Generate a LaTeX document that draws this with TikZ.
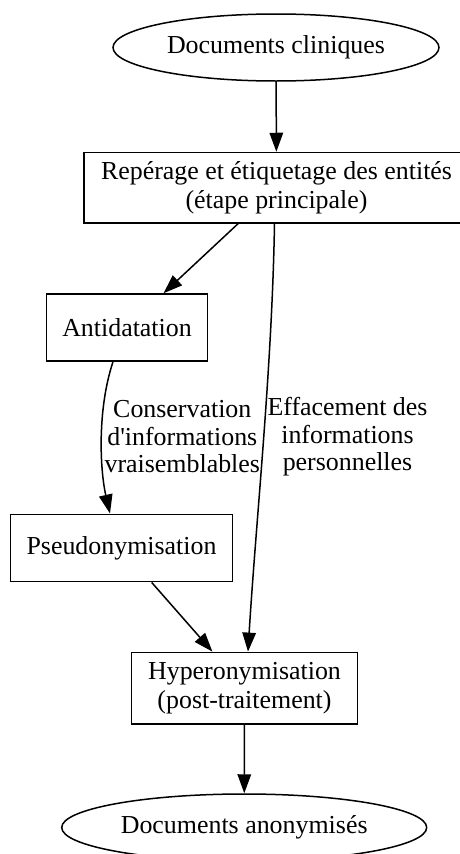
\documentclass[tikz,border=0pt]{standalone}
\usepackage{fontspec}
\setmainfont{Liberation Serif}
\usetikzlibrary{arrows.meta,calc,shapes.geometric}
\begin{document}
\begin{tikzpicture}[x=1pt,y=-1pt,
  every node/.style={font=\fontsize{25.9}{28.6}\selectfont, inner sep=0pt, align=center},
  doc/.style={ellipse, draw, line width=1.5pt},
  stage/.style={rectangle, draw, line width=1.5pt},
  flow/.style={line width=1.5pt, -{Triangle[length=19pt,width=13.5pt]}},
  lbl/.style={font=\fontsize{25.9}{27.5}\selectfont}]
\useasboundingbox (0,0) rectangle (460,854);

% pipeline stages
\node[doc, minimum width=326, minimum height=67] (src) at (276,47.5) {Documents cliniques};
\node[stage, minimum width=385, minimum height=70.4] (tag) at (276.5,187.7)
  {Repérage et étiquetage des entités\\(étape principale)};
\node[stage, minimum width=160.6, minimum height=67] (anti) at (127,327.5) {Antidatation};
\node[stage, minimum width=221.6, minimum height=67.4] (pseudo) at (121.5,548) {Pseudonymisation};
\node[stage, minimum width=225.6, minimum height=71.7] (hyper) at (244.5,688.2)
  {Hyperonymisation\\(post-traitement)};
\node[doc, minimum width=365, minimum height=67] (out) at (244.2,827.5) {Documents anonymisés};

% edge labels
\node[lbl] (keep) at (182.3,437) {Conservation\\d\textquotesingle informations\\vraisemblables};
\node[lbl] (erase) at (347.5,437) {Effacement des\\informations\\personnelles};

% connectors
\draw[flow] (src) -- (tag);
\draw[flow] (tag) -- (anti);
\draw[flow] ($(anti.south)+(-14,0)$) .. controls (97,410) and (100,470) .. ($(pseudo.north)+(-11.5,0)$);
\draw[flow] ($(tag.south)+(-2,0)$) .. controls (272,370) and (256,520) .. ($(hyper.north)+(3.5,0)$);
\draw[flow] (pseudo) -- (hyper);
\draw[flow] (hyper) -- (out);
\end{tikzpicture}
\end{document}
